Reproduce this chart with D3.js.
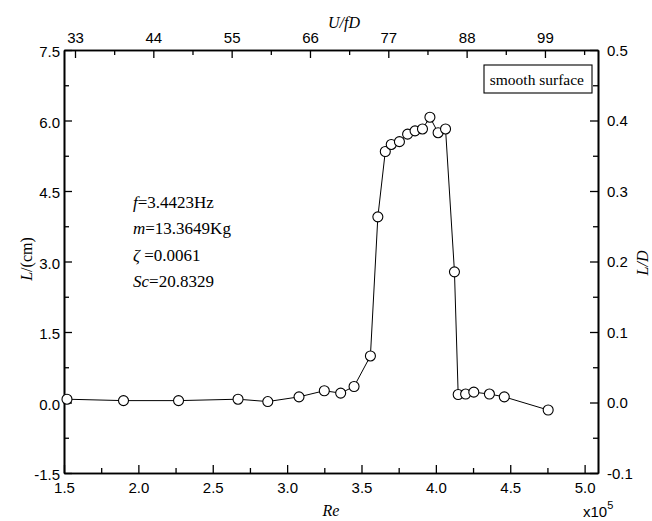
<!DOCTYPE html>
<html>
<head>
<meta charset="utf-8">
<script src="https://cdn.jsdelivr.net/npm/d3@7"></script>
<style>
  body { margin: 0; background: #fff; }
  svg { display: block; }
  .tk text { font-family: "Liberation Sans", Arial, sans-serif; font-size: 15px; fill: #000; }
  .tk path, .tk line { stroke: #000; }
  .ser { font-family: "Liberation Serif", "Times New Roman", serif; font-size: 16px; fill: #000; }
</style>
</head>
<body>
<div id="chart"></div>
<script>
// Re (x10^5) vs amplitude L (cm)
var reValues = [1.52, 1.90, 2.27, 2.67, 2.87, 3.08, 3.25, 3.36, 3.45, 3.56, 3.61, 3.66, 3.70, 3.755, 3.81, 3.86, 3.91, 3.96, 4.015, 4.065, 4.125, 4.15, 4.20, 4.255, 4.36, 4.46, 4.755];
var lValues  = [0.07, 0.04, 0.04, 0.07, 0.02, 0.12, 0.25, 0.20, 0.34, 0.99, 3.95, 5.34, 5.49, 5.55, 5.71, 5.78, 5.82, 6.07, 5.74, 5.82, 2.78, 0.17, 0.18, 0.22, 0.18, 0.12, -0.16];

var xTicks = [1.5, 2.0, 2.5, 3.0, 3.5, 4.0, 4.5, 5.0];
var xMinor = [1.75, 2.25, 2.75, 3.25, 3.75, 4.25, 4.75];
var yTicks = [-1.5, 0.0, 1.5, 3.0, 4.5, 6.0, 7.5];
var yMinor = [-0.75, 0.75, 2.25, 3.75, 5.25, 6.75];
var y2Ticks = [-0.1, 0.0, 0.1, 0.2, 0.3, 0.4, 0.5];
var y2Minor = [-0.05, 0.05, 0.15, 0.25, 0.35, 0.45];
var topTicks = [33, 44, 55, 66, 77, 88, 99];
var topMinor = [38.5, 49.5, 60.5, 71.5, 82.5, 93.5, 104.5];

var W = 652, H = 521;
var box = {x1: 64, x2: 598, y1: 50, y2: 473};

var svg = d3.select("#chart").append("svg")
  .attr("width", W).attr("height", H)
  .attr("viewBox", "0 0 " + W + " " + H);

var x = d3.scaleLinear().domain([1.5, 5.09]).range([box.x1, box.x2]);
var xTop = d3.scaleLinear().domain([31.455, 106.45]).range([box.x1, box.x2]);
var y = d3.scaleLinear().domain([-1.5, 7.5]).range([box.y2, box.y1]);
var y2 = d3.scaleLinear().domain([-0.1, 0.5]).range([box.y2, box.y1]);

// plain hyphen for negatives, like the original
var f1 = function(d){ return d3.format(".1f")(d).replace("\u2212", "-"); };

function addAxis(axis, tx, ty){
  var g = svg.append("g").attr("class", "tk")
    .attr("transform", "translate(" + tx + "," + ty + ")")
    .call(axis);
  g.select(".domain").attr("stroke-width", 1.6);
  g.selectAll(".tick line").attr("stroke-width", 1.3);
  return g;
}

// major ticks with labels (inward)
addAxis(d3.axisBottom(x).tickValues(xTicks).tickFormat(f1).tickSize(-8).tickSizeOuter(0).tickPadding(9), 0, box.y2);
addAxis(d3.axisTop(xTop).tickValues(topTicks).tickFormat(d3.format("d")).tickSize(-8).tickSizeOuter(0).tickPadding(7), 0, box.y1);
addAxis(d3.axisLeft(y).tickValues(yTicks).tickFormat(f1).tickSize(-8).tickSizeOuter(0).tickPadding(4), box.x1, 0)
  .selectAll("text").attr("dy", "0.45em");
addAxis(d3.axisRight(y2).tickValues(y2Ticks).tickFormat(f1).tickSize(-8).tickSizeOuter(0).tickPadding(9), box.x2, 0)
  .selectAll("text").attr("dy", "0.35em");

// minor ticks
[[d3.axisBottom(x).tickValues(xMinor), 0, box.y2],
 [d3.axisTop(xTop).tickValues(topMinor), 0, box.y1],
 [d3.axisLeft(y).tickValues(yMinor), box.x1, 0],
 [d3.axisRight(y2).tickValues(y2Minor), box.x2, 0]].forEach(function(a){
  addAxis(a[0].tickSize(-5).tickSizeOuter(0).tickFormat(""), a[1], a[2]);
});

// data
var pts = reValues.map(function(r, i){ return [r, lValues[i]]; });
var line = d3.line().x(function(d){ return x(d[0]); }).y(function(d){ return y(d[1]); });
svg.append("path").datum(pts)
  .attr("d", line)
  .attr("fill", "none")
  .attr("stroke", "#000")
  .attr("stroke-width", 1);
svg.append("g").selectAll("circle").data(pts).enter().append("circle")
  .attr("cx", function(d){ return x(d[0]); })
  .attr("cy", function(d){ return y(d[1]); })
  .attr("r", 5)
  .attr("fill", "#fff")
  .attr("stroke", "#000")
  .attr("stroke-width", 1.1);

// axis titles
svg.append("text").attr("class", "ser").attr("x", 344).attr("y", 28)
  .attr("text-anchor", "middle").style("font-style", "italic").text("U/fD");
svg.append("text").attr("class", "ser").attr("x", 331).attr("y", 516)
  .attr("text-anchor", "middle").style("font-style", "italic").text("Re");
var xl = svg.append("text").attr("class", "tk").attr("x", 583).attr("y", 517);
xl.append("tspan").style("font-family", "Liberation Sans, Arial, sans-serif").style("font-size", "15px").text("x10");
xl.append("tspan").attr("dy", -8).style("font-family", "Liberation Sans, Arial, sans-serif").style("font-size", "11px").text("5");

var yl = svg.append("text").attr("class", "ser")
  .attr("transform", "translate(32,259) rotate(-90)").attr("text-anchor", "middle");
yl.append("tspan").style("font-style", "italic").text("L");
yl.append("tspan").text("/(cm)");
svg.append("text").attr("class", "ser")
  .attr("transform", "translate(648,263) rotate(-90)").attr("text-anchor", "middle")
  .style("font-style", "italic").text("L/D");

// parameter notes
var notes = [["f", "=3.4423Hz"], ["m", "=13.3649Kg"], ["\u03B6", " =0.0061"], ["Sc", "=20.8329"]];
var noteY = [208, 234, 261, 287];
notes.forEach(function(n, i){
  var t = svg.append("text").attr("class", "ser").attr("x", 133).attr("y", noteY[i])
    .style("font-size", "17px");
  t.append("tspan").style("font-style", "italic").text(n[0]);
  t.append("tspan").text(n[1]);
});

// legend
var lg = svg.append("g");
lg.append("rect").attr("x", 484).attr("y", 65).attr("width", 108).attr("height", 28)
  .attr("fill", "#fff").attr("stroke", "#000").attr("stroke-width", 1.1);
lg.append("text").attr("class", "ser").attr("x", 584).attr("y", 85)
  .attr("text-anchor", "end").style("font-size", "15.5px").text("smooth surface");
</script>
</body>
</html>
